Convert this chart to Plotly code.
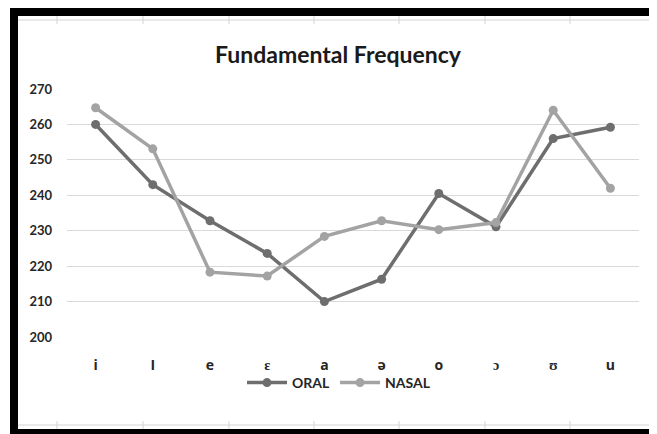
import plotly.graph_objects as go

vowels = ["i", "I", "e", "ɛ", "a", "ə", "o", "ɔ", "ʊ", "u"]
oral = [260, 243, 232.8, 223.6, 210, 216.3, 240.5, 231.1, 256, 259.2]
nasal = [264.7, 253.1, 218.3, 217.2, 228.4, 232.8, 230.3, 232.3, 264, 242]

ORAL_COLOR = "#6e6e6e"
NASAL_COLOR = "#a3a3a3"

# the page body adds an 8px margin, so work in screen pixels minus 8
OFF = 8
W, H = 657 - OFF, 434 - OFF
L, R, T, B = 67 - OFF, 639 - OFF, 89 - OFF, 337 - OFF


def px(x):
    return (x - OFF - L) / (R - L)


def py(y):
    return (B - (y - OFF)) / (B - T)


fig = go.Figure()
fig.add_trace(go.Scatter(x=vowels, y=oral, name="ORAL", mode="lines+markers",
                         line=dict(color=ORAL_COLOR, width=3.5),
                         marker=dict(color=ORAL_COLOR, size=9)))
fig.add_trace(go.Scatter(x=vowels, y=nasal, name="NASAL", mode="lines+markers",
                         line=dict(color=NASAL_COLOR, width=3.5),
                         marker=dict(color=NASAL_COLOR, size=9)))

shapes = []
# spreadsheet cell lines
for yy in (20, 425):
    shapes.append(dict(type="line", xref="paper", yref="paper", x0=px(18), x1=px(655),
                       y0=py(yy), y1=py(yy), line=dict(color="#d4d4d4", width=1)))
    for xx in (57, 143, 229, 314, 399, 485, 570):
        shapes.append(dict(type="line", xref="paper", yref="paper", x0=px(xx), x1=px(xx),
                           y0=py(yy - 4), y1=py(yy + 4), line=dict(color="#d4d4d4", width=1)))
shapes.append(dict(type="line", xref="paper", yref="paper", x0=px(655), x1=px(655),
                   y0=py(16), y1=py(429), line=dict(color="#d4d4d4", width=1)))
# black frame (top, left, bottom)
shapes.append(dict(type="rect", xref="paper", yref="paper", x0=px(10), x1=px(660),
                   y0=py(16), y1=py(8), fillcolor="black", line=dict(width=0)))
shapes.append(dict(type="rect", xref="paper", yref="paper", x0=px(10), x1=px(18),
                   y0=py(436), y1=py(8), fillcolor="black", line=dict(width=0)))
shapes.append(dict(type="rect", xref="paper", yref="paper", x0=px(10), x1=px(660),
                   y0=py(436), y1=py(429), fillcolor="black", line=dict(width=0)))

fig.update_layout(
    width=W, height=H,
    margin=dict(l=L, r=W - R, t=T, b=H - B),
    paper_bgcolor="white", plot_bgcolor="white",
    font=dict(family="Lato", color="#262626"),
    title=dict(text="<b>Fundamental Frequency</b>", x=(338 - OFF) / W, xanchor="center",
               y=1 - (55 - OFF) / H, yanchor="middle", yref="container",
               font=dict(size=23, color="#1a1a1a")),
    legend=dict(orientation="h", x=px(339), xanchor="center", y=py(383), yanchor="middle",
                bgcolor="rgba(0,0,0,0)",
                font=dict(size=14, weight="bold"), itemwidth=40),
    shapes=shapes,
    showlegend=True,
)
fig.update_xaxes(range=[-0.5, 9.5], showgrid=False, showline=False, zeroline=False,
                 ticks="", ticklabelstandoff=18,
                 tickfont=dict(family="Open Sans", size=14, weight="bold", color="#262626"))
fig.update_yaxes(range=[200, 270], dtick=10, showgrid=True, gridcolor="#d9d9d9",
                 gridwidth=1, zeroline=False, showline=False, ticks="",
                 ticklabelstandoff=14,
                 tickfont=dict(size=13, weight="bold", color="#262626"))

fig.write_html("out.html")
